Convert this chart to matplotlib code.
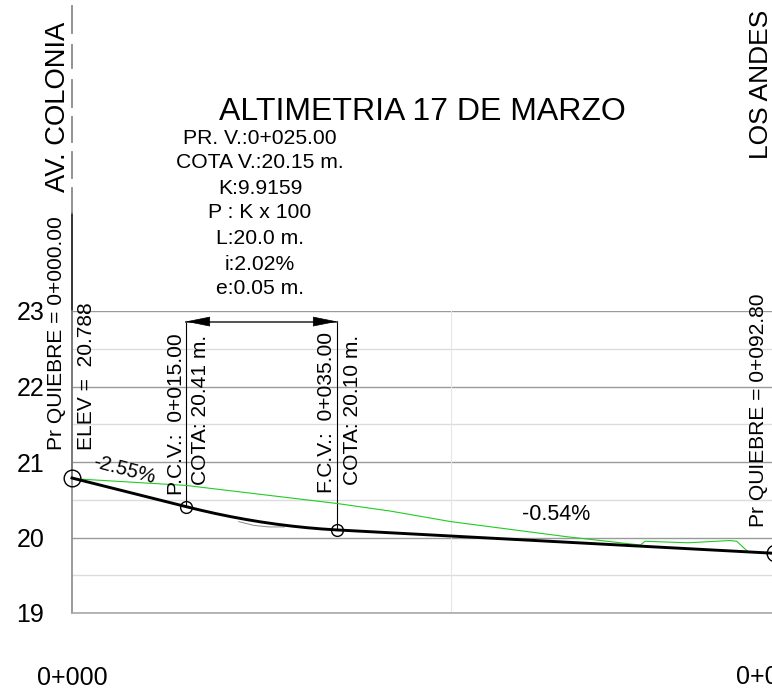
# perfil altimetrico 17 de marzo
import matplotlib
matplotlib.use('Agg')
import matplotlib.pyplot as plt

plt.rcParams['font.family'] = ['Liberation Sans', 'DejaVu Sans']

# rasante (linea negra)
rasante_x = [0, 15, 17, 19, 21, 23, 25, 27, 29, 31, 33, 35, 92.8]
rasante_y = [20.788, 20.41, 20.361, 20.316, 20.275, 20.238, 20.205, 20.176, 20.151, 20.130, 20.113, 20.10, 19.79]

# terreno (linea verde)
terreno_x = [0, 15, 35, 42, 50, 65.3, 75, 75.6, 81.3, 86.8, 87.7, 89.2]
terreno_y = [20.78, 20.69, 20.45, 20.35, 20.21, 20.01, 19.90, 19.95, 19.93, 19.96, 19.95, 19.81]

# linea gris fina debajo de la curva
gris_x = [22, 24, 26, 28]
gris_y = [20.21, 20.16, 20.14, 20.14]

# puntos de quiebre
puntos_x = [0, 15, 35, 92.8]
puntos_y = [20.788, 20.41, 20.10, 19.79]

# linea de la calle arriba del grafico
calle_ini = [24.30, 24.76, 25.24, 25.70, 26.22, 26.68]
calle_fin = [24.63, 25.11, 25.57, 26.06, 26.52, 27.04]

y_ticks = [19, 20, 21, 22, 23]
y_minor = [19.5, 20.5, 21.5, 22.5]
x_tick_labels = ['0+000', '0+093']

titulo = 'ALTIMETRIA 17 DE MARZO'
datos_curva = ['PR. V.:0+025.00', 'COTA V.:20.15 m.', 'K:9.9159', 'P : K x 100',
               'L:20.0 m.', 'i:2.02%', 'e:0.05 m.']
datos_y_px = [138, 163, 188, 213, 239, 264, 289]

fig = plt.figure(figsize=(7.72, 7.0), dpi=100)
# el eje cubre de 19 a 23, lo demas queda afuera con clip_on=False
ax = fig.add_axes([72 / 772, 1 - 613 / 700, 700 / 772, (613 - 311) / 700])
ax.set_xlim(0, 92.35)
ax.set_ylim(19, 23)

# grilla
ax.set_yticks(y_ticks)
ax.set_yticks(y_minor, minor=True)
ax.set_xticks([0])
ax.set_xticklabels([x_tick_labels[0]])
ax.tick_params(axis='both', which='both', length=0)
ax.tick_params(axis='y', labelsize=18, pad=20)
ax.tick_params(axis='x', labelsize=18, pad=38)
ax.grid(True, which='major', axis='y', color='#9a9a9a', lw=1.0)
ax.grid(True, which='minor', axis='y', color='#dcdcdc', lw=1.0)
ax.axvline(50, color='#e6e6e6', lw=0.8)
for lado in ['top', 'right']:
    ax.spines[lado].set_visible(False)
ax.spines['left'].set_color('#8a8a8a')
ax.spines['bottom'].set_color('#a8a8a8')
ax.spines['left'].set_linewidth(1.2)
ax.spines['bottom'].set_linewidth(1.2)
ax.set_axisbelow(True)

# linea vertical inicial
ax.plot([0, 0], [20.79, 24.30], color='#222222', lw=1.3, clip_on=False)
for a, b in zip(calle_ini, calle_fin):
    ax.plot([0, 0], [a, b], color='#8a8a8a', lw=1.3, clip_on=False)

# verticales de curva y cota
ax.plot([15, 15], [20.41, 22.87], color='black', lw=0.8, clip_on=False)
ax.plot([35, 35], [20.10, 22.87], color='black', lw=0.8, clip_on=False)

# cota de la curva vertical con flechas
ax.plot([15, 35], [22.86, 22.86], color='#444444', lw=1.3)
ax.annotate('', xy=(15, 22.86), xytext=(18.1, 22.86),
            arrowprops=dict(arrowstyle='-|>,head_length=1.6,head_width=0.32', color='black',
                            shrinkA=0, shrinkB=0, lw=0.5))
ax.annotate('', xy=(35, 22.86), xytext=(31.9, 22.86),
            arrowprops=dict(arrowstyle='-|>,head_length=1.6,head_width=0.32', color='black',
                            shrinkA=0, shrinkB=0, lw=0.5))

# perfiles
ax.plot(terreno_x, terreno_y, color='#22cc22', lw=0.8, zorder=3)
ax.plot(gris_x, gris_y, color='#888888', lw=0.7, zorder=3)
ax.plot(rasante_x, rasante_y, color='black', lw=2.1, zorder=4, clip_on=False)

# circulos
ax.plot(puntos_x[0], puntos_y[0], 'o', ms=12, mfc='none', mec='black', mew=1.0, zorder=5, clip_on=False)
ax.plot(puntos_x[1:3], puntos_y[1:3], 'o', ms=8.5, mfc='none', mec='black', mew=1.0, zorder=5, clip_on=False)
ax.plot(puntos_x[3], puntos_y[3], 'o', ms=12, mfc='none', mec='black', mew=1.0, zorder=5, clip_on=False)

# textos en pixeles de la figura
def texto(x, y, s, **kw):
    fig.text(x / 772, 1 - y / 700, s, **kw)

texto(422, 112, titulo, fontsize=23, ha='center', va='center')
for linea, yy in zip(datos_curva, datos_y_px):
    texto(260, yy, linea, fontsize=15.2, ha='center', va='center')

texto(58, 192, 'AV. COLONIA', fontsize=19.7, rotation=90, ha='center', va='bottom')
texto(761, 159, 'LOS ANDES', fontsize=19, rotation=90, ha='center', va='bottom')
texto(57, 450, 'Pr QUIEBRE = 0+000.00', fontsize=15.1, rotation=90, ha='center', va='bottom')
texto(86, 450, 'ELEV =  20.788', fontsize=15.1, rotation=90, ha='center', va='bottom')
texto(176, 495, 'P.C.V.:  0+015.00', fontsize=15.1, rotation=90, ha='center', va='bottom')
texto(201, 485, 'COTA: 20.41 m.', fontsize=15.1, rotation=90, ha='center', va='bottom')
texto(327, 493, 'F.C.V.:  0+035.00', fontsize=15.1, rotation=90, ha='center', va='bottom')
texto(352, 485, 'COTA: 20.10 m.', fontsize=15.1, rotation=90, ha='center', va='bottom')
texto(759, 527, 'Pr QUIEBRE = 0+092.80', fontsize=15.1, rotation=90, ha='center', va='bottom')
texto(124, 470, '-2.55%', fontsize=14.5, rotation=-15, ha='center', va='center')
texto(556, 515, '-0.54%', fontsize=15.5, ha='center', va='center')
texto(771, 677, x_tick_labels[1], fontsize=18, ha='center', va='center')

fig.savefig('out.png', dpi=100)
